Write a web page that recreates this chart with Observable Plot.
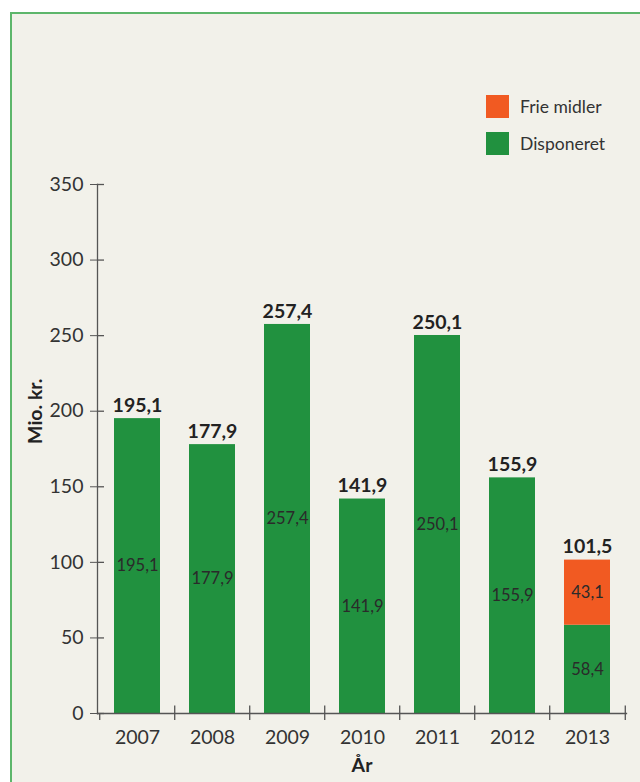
<!DOCTYPE html>
<html>
<head>
<meta charset="utf-8">
<script src="https://cdn.jsdelivr.net/npm/d3@7"></script>
<script src="https://cdn.jsdelivr.net/npm/@observablehq/plot@0.6"></script>
<style>
  html, body { margin: 0; padding: 0; background: #ffffff; }
  #wrap { position: relative; width: 640px; height: 782px; overflow: hidden; font-family: Lato, "Open Sans", sans-serif; }
  #panel { position: absolute; left: 10px; top: 12px; width: 640px; height: 780px; background: #f2f1ea; border-left: 2px solid #5db66b; border-top: 2px solid #5db66b; }
  #chart { position: absolute; left: 0; top: 0; }
  .legend { position: absolute; left: 486px; font-size: 17.5px; color: #333; display: flex; align-items: center; }
  .legend span.sw { display: inline-block; width: 23px; height: 23px; margin-right: 11px; }
</style>
</head>
<body>
<div id="wrap">
  <div id="panel"></div>
  <div id="chart"></div>
  <div class="legend" style="top:95px"><span class="sw" style="background:#f15a22"></span>Frie midler</div>
  <div class="legend" style="top:132px"><span class="sw" style="background:#21913f"></span>Disponeret</div>
</div>
<script>
const years = ["2007", "2008", "2009", "2010", "2011", "2012", "2013"];
const disponeret = [195.1, 177.9, 257.4, 141.9, 250.1, 155.9, 58.4];
const frieMidler = [0, 0, 0, 0, 0, 0, 43.1];
const totals = [195.1, 177.9, 257.4, 141.9, 250.1, 155.9, 101.5];
const yTicks = [0, 50, 100, 150, 200, 250, 300, 350];
const seriesNames = ["Disponeret", "Frie midler"];
const seriesColors = ["#21913f", "#f15a22"];

const fmt = v => d3.format(".1f")(v).replace(".", ",");

// long table with stack bounds
const rows = [];
years.forEach((yr, i) => {
  const a = disponeret[i], b = frieMidler[i];
  rows.push({year: yr, series: seriesNames[0], lo: 0, hi: a, value: a});
  if (b > 0) rows.push({year: yr, series: seriesNames[1], lo: a, hi: a + b, value: b});
});
const totalRows = years.map((yr, i) => ({year: yr, total: totals[i]}));

const W = 640, H = 782;
const mL = 97, mR = 14, mT = 184, mB = 69;
const bw = (W - mL - mR) / years.length;
const axisColor = "#555";
const font = "Lato, 'Open Sans', sans-serif";

const plot = Plot.plot({
  width: W,
  height: H,
  marginLeft: mL,
  marginRight: mR,
  marginTop: mT,
  marginBottom: mB,
  style: {background: "transparent", fontFamily: font, color: "#333", overflow: "visible"},
  x: {domain: years, paddingInner: 0.39, paddingOuter: 0.195, axis: null},
  y: {domain: [0, 350], axis: null},
  color: {domain: seriesNames, range: seriesColors},
  marks: [
    Plot.barY(rows, {x: "year", y1: "lo", y2: "hi", fill: "series"}),
    // axes lines
    Plot.frame({anchor: "left", stroke: axisColor, strokeWidth: 1.3}),
    Plot.frame({anchor: "bottom", stroke: axisColor, strokeWidth: 1.3}),
    // y ticks (left and right of axis)
    Plot.axisY({ticks: yTicks, tickSize: 7, tickPadding: 7, tickFormat: d => d, fontSize: 19.5, stroke: axisColor, fill: "#333", label: null}),
    Plot.tickY(yTicks, {y: d => d, insetRight: W - mL - mR - 7, stroke: axisColor, strokeWidth: 1.3}),
    // x band boundary ticks
    Plot.ruleX(years.slice(1), {x: d => d, dx: -bw / 2, y1: 5, y2: -4.7, stroke: axisColor, strokeWidth: 1.3}),
    Plot.ruleX([years[0]], {x: d => d, dx: -bw / 2, y1: 0, y2: -4.7, stroke: axisColor, strokeWidth: 1.3}),
    Plot.ruleX([years[years.length - 1]], {x: d => d, dx: bw / 2, y1: 5, y2: -4.7, stroke: axisColor, strokeWidth: 1.3}),
    // x tick labels
    Plot.text(years, {x: d => d, y: 0, dy: 24, text: d => d, fontSize: 19.5, fill: "#333"}),
    // in-bar labels
    Plot.text(rows, {x: "year", y: d => (d.lo + d.hi) / 2, text: d => fmt(d.value), fontSize: 16.5, fill: "#2a2a2a"}),
    // totals
    Plot.text(totalRows, {x: "year", y: "total", dy: -13, text: d => fmt(d.total), fontSize: 19.5, fontWeight: "bold", fill: "#222"}),
    // axis titles
    Plot.text(["Mio. kr."], {frameAnchor: "left", y: 200, dx: -62, rotate: -90, textAnchor: "middle", text: d => d, fontSize: 19.5, fontWeight: "bold", fill: "#222"}),
    Plot.text(["År"], {frameAnchor: "bottom", dy: 58, text: d => d, fontSize: 19.5, fontWeight: "bold", fill: "#222"})
  ]
});
document.getElementById("chart").appendChild(plot);
</script>
</body>
</html>
